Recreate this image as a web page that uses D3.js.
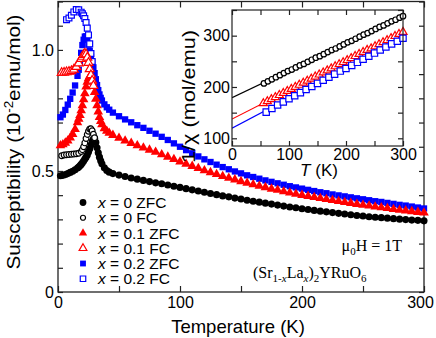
<!DOCTYPE html>
<html>
<head>
<meta charset="utf-8">
<script src="https://cdn.jsdelivr.net/npm/d3@7"></script>
<style>
  body { margin: 0; background: #fff; }
  svg { display: block; }
</style>
</head>
<body>
<div id="chart"></div>
<script>
// Temperature grid (K) of the ZFC curves
const zfcT = [2, 4, 6, 8, 10, 12, 14, 16, 17, 18, 19, 20, 21, 22, 23, 24, 25, 26, 27, 28, 29, 30,
  31, 32, 33, 34, 35, 36, 38, 40, 42, 45,
  50, 55, 60, 65, 70, 75, 80, 85, 90, 95, 100, 105, 110, 115, 120, 125, 130, 135, 140, 145,
  150, 155, 160, 165, 170, 175, 180, 185, 190, 195, 200, 205, 210, 215, 220, 225, 230, 235,
  240, 245, 250, 255, 260, 265, 270, 275, 280, 285, 290, 295, 300];

// Susceptibility, 10^-2 emu/mol
const zfc0 = [.480, .482, .485, .489, .494, .499, .505, .512, .516, .521, .527, .534, .541, .549, .557, .566, .578, .592, .607, .621, .632, .635,
  .618, .596, .575, .557, .542, .530, .513, .502, .495, .489,
  .483, .477, .471, .466, .461, .456, .451, .447, .442, .437, .432, .427, .422, .417, .412, .407, .402, .397, .393, .388,
  .384, .379, .375, .371, .367, .363, .359, .355, .351, .348, .344, .341, .337, .334, .331, .328, .325, .322,
  .319, .316, .314, .311, .309, .307, .305, .303, .301, .299, .297, .296, .294];
const zfc1 = [.605, .609, .616, .625, .637, .652, .672, .700, .715, .730, .750, .770, .795, .820, .848, .868, .882, .890, .889, .870, .850, .825,
  .797, .770, .745, .722, .705, .692, .676, .665, .657, .648,
  .636, .625, .615, .605, .596, .587, .578, .568, .558, .548, .538, .529, .520, .511, .502, .494, .486, .478, .471, .464,
  .457, .450, .444, .438, .432, .426, .421, .415, .410, .405, .400, .396, .391, .387, .383, .379, .375, .371,
  .367, .363, .359, .356, .352, .349, .346, .342, .339, .336, .333, .330, .327];
const zfc2 = [.722, .733, .752, .774, .798, .824, .853, .893, .918, .948, .988, 1.020, 1.042, 1.055, 1.056, 1.046, 1.022, .996, .972, .950, .928, .904,
  .879, .855, .834, .816, .802, .791, .775, .763, .753, .741,
  .726, .713, .701, .689, .678, .666, .654, .641, .628, .614, .600, .586, .573, .560, .548, .537, .526, .516, .507, .498,
  .490, .482, .475, .468, .461, .455, .449, .443, .437, .432, .427, .422, .417, .412, .408, .403, .399, .395,
  .391, .387, .383, .379, .375, .372, .368, .364, .360, .357, .353, .349, .345];

// FC branches (only where they split from ZFC)
const fc0T = [3, 5, 7, 9, 11, 13, 15, 17, 19, 20, 21, 22, 23, 24, 25, 26, 27, 28, 29, 30];
const fc0 = [.563, .566, .567, .568, .569, .570, .571, .573, .580, .588, .600, .616, .634, .651, .664, .673, .674, .666, .652, .637];
const fc1T = [3, 5, 7, 9, 11, 13, 15, 17, 19, 20, 21, 22, 23, 24, 25, 26, 27, 28, 29];
const fc1 = [.905, .906, .908, .910, .913, .919, .930, .945, .963, .972, .980, .985, .982, .968, .947, .921, .896, .873, .852];
const fc2T = [7, 9, 11, 13, 15, 17, 19, 20, 21, 22, 23, 24, 25, 26, 27, 28];
const fc2 = [1.125, 1.132, 1.143, 1.157, 1.167, 1.166, 1.156, 1.149, 1.141, 1.130, 1.113, 1.090, 1.062, 1.025, .985, .952];

// inset: 1/chi (mol/emu)
const inv0T = [56, 63, 70, 77, 84, 91, 98, 105, 112, 119, 126, 133, 140, 147, 154, 161, 168, 175, 182, 189, 196, 203,
  210, 217, 224, 231, 238, 245, 252, 259, 266, 273, 280, 287, 294, 300];
const inv0 = [207, 211, 215, 219, 223, 227, 231, 234, 238, 242, 245, 249, 253, 257, 260, 264, 268, 272, 275, 279, 283, 287,
  290, 294, 298, 302, 305, 309, 313, 317, 320, 324, 328, 331, 335, 338];
const inv1T = [55, 62, 69, 76, 83, 90, 97, 104, 111, 118, 125, 132, 139, 146, 153, 160, 167, 174, 181, 188, 195, 202,
  209, 216, 223, 230, 237, 244, 251, 258, 265, 272, 279, 286, 293, 300];
const inv1 = [168, 172, 176, 180, 184, 188, 192, 196, 200, 204, 208, 212, 216, 220, 224, 228, 232, 236, 240, 244, 248, 252,
  256, 260, 264, 268, 272, 275, 279, 283, 287, 291, 295, 299, 303, 307];
const inv2T = [60, 70, 80, 90, 100, 110, 120, 130, 140, 150, 160, 170, 180, 190, 200, 210, 220, 230, 240, 250, 260, 270, 280, 290, 300];
const inv2 = [151, 158, 165, 171, 177, 183, 189, 195, 201, 207, 213, 219, 225, 231, 236, 242, 248, 254, 260, 266, 272, 278, 284, 289, 295];
// Curie-Weiss fit lines: [T, 1/chi] at both ends
const fit0 = [[0, 179], [300, 337.5]];
const fit1 = [[0, 137.5], [300, 307]];
const fit2 = [[0, 119.5], [300, 295.5]];

const legendLabels = [["x", " = 0 ZFC"], ["x", " = 0 FC"], ["x", " = 0.1 ZFC"], ["x", " = 0.1 FC"], ["x", " = 0.2 ZFC"], ["x", " = 0.2 FC"]];
const xTicks = [0, 50, 100, 150, 200, 250, 300];
const yTicks = [0, 0.1, 0.2, 0.3, 0.4, 0.5, 0.6, 0.7, 0.8, 0.9, 1.0, 1.1, 1.2];
const yTickLabels = { 0: "0", 0.5: "0.5", 1: "1.0" };
const insetXTicks = [0, 50, 100, 150, 200, 250, 300];
const insetYTicks = [100, 150, 200, 250, 300, 350];

const W = 436, H = 338;
const sans = "'Liberation Sans', Arial, Helvetica, sans-serif";
const serif = "'Liberation Serif', 'Times New Roman', serif";
const BLACK = "#000000", RED = "#ff0000", BLUE = "#0000ff";

const svg = d3.select("#chart").append("svg")
  .attr("width", W).attr("height", H)
  .attr("viewBox", [0, 0, W, H]);

const x = d3.scaleLinear().domain([0, 300]).range([58, 424]);
const y = d3.scaleLinear().domain([0, 1.2]).range([292, 1.5]);

// main axes, ticks pointing inwards
function styleAxis(g) {
  g.selectAll("text").attr("font-family", sans).attr("font-size", 16).attr("fill", "#000");
  g.selectAll("line").attr("stroke", "#222").attr("stroke-width", 1.2);
  g.select(".domain").remove();
}
svg.append("g").attr("transform", `translate(0,${y(0)})`)
  .call(d3.axisBottom(x).tickValues(xTicks).tickSize(-6).tickSizeOuter(0).tickPadding(5)
    .tickFormat(d => d % 100 === 0 ? d : ""))
  .call(styleAxis)
  .call(g => g.selectAll(".tick text").filter(d => d === 300).attr("dx", -4));
svg.append("g").attr("transform", `translate(0,${y(1.2)})`)
  .call(d3.axisTop(x).tickValues(xTicks).tickSize(-6).tickSizeOuter(0).tickFormat(""))
  .call(styleAxis);
svg.append("g").attr("transform", `translate(${x(0)},0)`)
  .call(d3.axisLeft(y).tickValues(yTicks).tickSize(-5).tickSizeOuter(0).tickPadding(4)
    .tickFormat(d => yTickLabels[Math.round(d * 10) / 10] || ""))
  .call(styleAxis);
svg.append("g").attr("transform", `translate(${x(300)},0)`)
  .call(d3.axisRight(y).tickValues(yTicks).tickSize(-5).tickSizeOuter(0).tickFormat(""))
  .call(styleAxis);
svg.append("rect")
  .attr("x", x(0)).attr("y", y(1.2))
  .attr("width", x(300) - x(0)).attr("height", y(0) - y(1.2))
  .attr("fill", "none").attr("stroke", "#222").attr("stroke-width", 1.3);

// data markers
function drawSeries(g, xs, ys, ts, vs, type, size, color, open) {
  g.append("g").selectAll("path")
    .data(ts.map((t, i) => [t, vs[i]]))
    .join("path")
    .attr("transform", d => `translate(${xs(d[0])},${ys(d[1])})`)
    .attr("d", d3.symbol().type(type).size(size))
    .attr("fill", open ? "#fff" : color)
    .attr("stroke", open ? color : "none")
    .attr("stroke-width", open ? 1.2 : 0);
}
const plot = svg.append("g");
drawSeries(plot, x, y, zfcT, zfc2, d3.symbolSquare, 40, BLUE, false);
drawSeries(plot, x, y, fc2T, fc2, d3.symbolSquare, 34, BLUE, true);
drawSeries(plot, x, y, zfcT, zfc1, d3.symbolTriangle, 40, RED, false);
drawSeries(plot, x, y, fc1T, fc1, d3.symbolTriangle, 34, RED, true);
drawSeries(plot, x, y, zfcT, zfc0, d3.symbolCircle, 40, BLACK, false);
drawSeries(plot, x, y, fc0T, fc0, d3.symbolCircle, 26, BLACK, true);

// axis titles
svg.append("text")
  .attr("x", 238).attr("y", 333)
  .attr("text-anchor", "middle")
  .attr("font-family", sans).attr("font-size", 18.5)
  .text("Temperature (K)");
const yTitle = svg.append("text")
  .attr("transform", "translate(19.5,142) rotate(-90)")
  .attr("text-anchor", "middle")
  .attr("font-family", sans).attr("font-size", 18.5)
  .attr("textLength", 255).attr("lengthAdjust", "spacingAndGlyphs");
yTitle.append("tspan").text("Susceptibility (10");
yTitle.append("tspan").attr("font-size", 12).attr("dy", -7).text("-2");
yTitle.append("tspan").attr("dy", 7).text("emu/mol)");

// legend
const legendSymbols = [
  [d3.symbolCircle, 36, BLACK, false], [d3.symbolCircle, 20, BLACK, true],
  [d3.symbolTriangle, 30, RED, false], [d3.symbolTriangle, 26, RED, true],
  [d3.symbolSquare, 34, BLUE, false], [d3.symbolSquare, 30, BLUE, true]
];
const legend = svg.append("g");
legendLabels.forEach((lab, i) => {
  const ly = 202.5 + i * 15.25;
  const s = legendSymbols[i];
  legend.append("path")
    .attr("transform", `translate(83,${ly})`)
    .attr("d", d3.symbol().type(s[0]).size(s[1]))
    .attr("fill", s[3] ? "#fff" : s[2])
    .attr("stroke", s[3] ? s[2] : "none")
    .attr("stroke-width", 1.2);
  const t = legend.append("text")
    .attr("x", 98).attr("y", ly + 5.5)
    .attr("font-family", sans).attr("font-size", 15.5);
  t.append("tspan").attr("font-style", "italic").text(lab[0]);
  t.append("tspan").text(lab[1]);
});

// field and compound annotations
const field = svg.append("text")
  .attr("x", 402).attr("y", 251)
  .attr("text-anchor", "end")
  .attr("font-family", serif).attr("font-size", 16);
field.append("tspan").text("μ");
field.append("tspan").attr("font-size", 11).attr("dy", 4).text("0");
field.append("tspan").attr("dy", -4).text("H = 1T");

const formula = svg.append("text")
  .attr("x", 253).attr("y", 278)
  .attr("font-family", serif).attr("font-size", 16);
formula.append("tspan").text("(Sr");
formula.append("tspan").attr("font-size", 11).attr("dy", 4).text("1-");
formula.append("tspan").attr("font-size", 11).attr("font-style", "italic").text("x");
formula.append("tspan").attr("dy", -4).text("La");
formula.append("tspan").attr("font-size", 11).attr("font-style", "italic").attr("dy", 4).text("x");
formula.append("tspan").attr("dy", -4).text(")");
formula.append("tspan").attr("font-size", 11).attr("dy", 4).text("2");
formula.append("tspan").attr("dy", -4).text("YRuO");
formula.append("tspan").attr("font-size", 11).attr("dy", 4).text("6");

// inset: inverse susceptibility
const ix = d3.scaleLinear().domain([0, 300]).range([232, 403]);
const iy = d3.scaleLinear().domain([85, 350]).range([146, 10]);
const inset = svg.append("g");
inset.append("rect")
  .attr("x", ix(0)).attr("y", iy(350))
  .attr("width", ix(300) - ix(0)).attr("height", iy(85) - iy(350))
  .attr("fill", "#fff");
inset.append("clipPath").attr("id", "insetClip")
  .append("rect")
  .attr("x", ix(0)).attr("y", iy(350))
  .attr("width", ix(300) - ix(0)).attr("height", iy(85) - iy(350));

inset.append("g").attr("transform", `translate(0,${iy(85)})`)
  .call(d3.axisBottom(ix).tickValues(insetXTicks).tickSize(-5).tickSizeOuter(0).tickPadding(3)
    .tickFormat(d => d % 100 === 0 ? d : ""))
  .call(styleAxis);
inset.append("g").attr("transform", `translate(0,${iy(350)})`)
  .call(d3.axisTop(ix).tickValues(insetXTicks).tickSize(-5).tickSizeOuter(0).tickFormat(""))
  .call(styleAxis);
inset.append("g").attr("transform", `translate(${ix(0)},0)`)
  .call(d3.axisLeft(iy).tickValues(insetYTicks).tickSize(-5).tickSizeOuter(0).tickPadding(2)
    .tickFormat(d => d % 100 === 0 && d < 350 ? d : ""))
  .call(styleAxis);
inset.append("g").attr("transform", `translate(${ix(300)},0)`)
  .call(d3.axisRight(iy).tickValues(insetYTicks).tickSize(-5).tickSizeOuter(0).tickFormat(""))
  .call(styleAxis);

const fitLine = d3.line().x(d => ix(d[0])).y(d => iy(d[1]));
const fits = inset.append("g").attr("clip-path", "url(#insetClip)");
[[fit0, BLACK], [fit1, RED], [fit2, BLUE]].forEach(([pts, c]) => {
  fits.append("path").attr("d", fitLine(pts))
    .attr("fill", "none").attr("stroke", c).attr("stroke-width", 1.2);
});
drawSeries(inset, ix, iy, inv0T, inv0, d3.symbolCircle, 24, BLACK, true);
drawSeries(inset, ix, iy, inv1T, inv1, d3.symbolTriangle, 28, RED, true);
drawSeries(inset, ix, iy, inv2T, inv2, d3.symbolSquare, 40, BLUE, true);

inset.append("rect")
  .attr("x", ix(0)).attr("y", iy(350))
  .attr("width", ix(300) - ix(0)).attr("height", iy(85) - iy(350))
  .attr("fill", "none").attr("stroke", "#222").attr("stroke-width", 1.2);

const ixTitle = inset.append("text")
  .attr("x", 319).attr("y", 176)
  .attr("text-anchor", "middle")
  .attr("font-family", sans).attr("font-size", 17);
ixTitle.append("tspan").attr("font-style", "italic").text("T");
ixTitle.append("tspan").text(" (K)");

inset.append("text")
  .attr("transform", "translate(195,96.5) rotate(-90)")
  .attr("text-anchor", "middle")
  .attr("font-family", sans).attr("font-size", 17.5)
  .attr("textLength", 133).attr("lengthAdjust", "spacingAndGlyphs")
  .text("1/χ (mol/emu)");
</script>
</body>
</html>
